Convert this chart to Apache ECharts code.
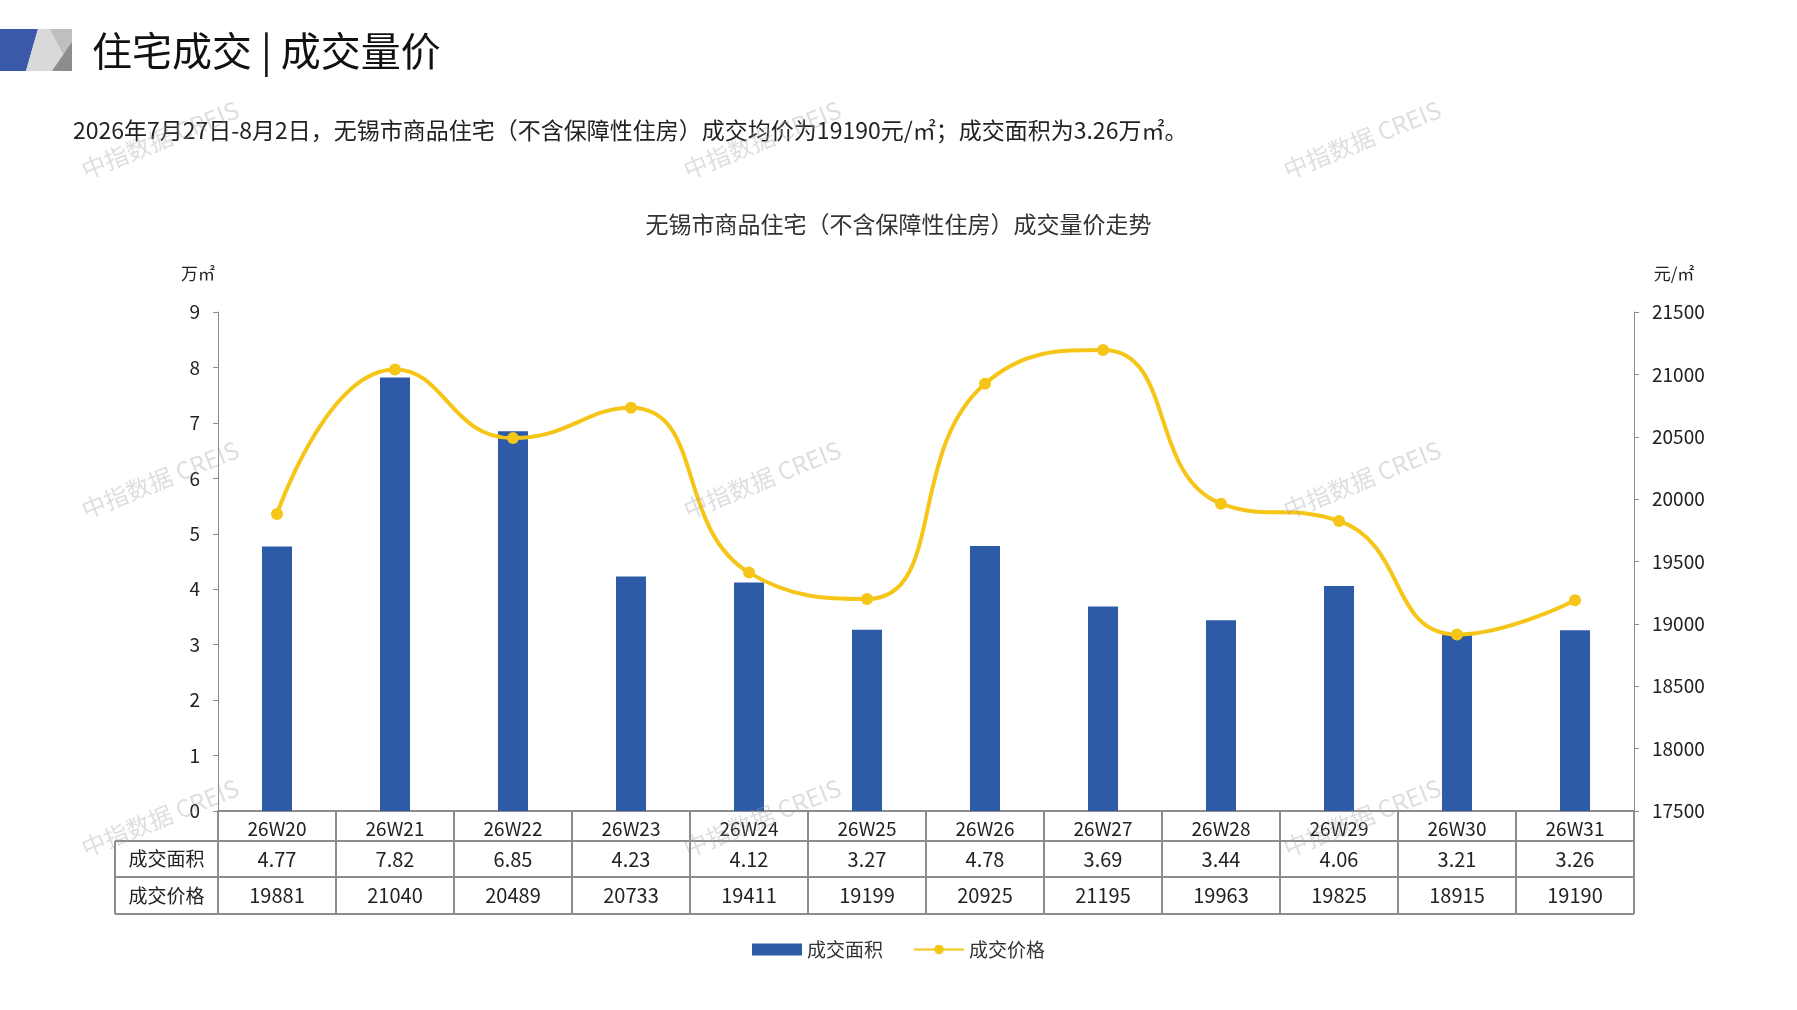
<!DOCTYPE html>
<html>
<head>
<meta charset="utf-8">
<script src="https://cdn.jsdelivr.net/npm/echarts@6/dist/echarts.min.js"></script>
<style>
html,body{margin:0;padding:0;background:#fff;}
#main{width:1797px;height:1010px;}
</style>
</head>
<body>
<div id="main"></div>
<script>
var weeks = ['26W20', '26W21', '26W22', '26W23', '26W24', '26W25', '26W26', '26W27', '26W28', '26W29', '26W30', '26W31'];
var areaValues = [4.77, 7.82, 6.85, 4.23, 4.12, 3.27, 4.78, 3.69, 3.44, 4.06, 3.21, 3.26];
var priceValues = [19881, 21040, 20489, 20733, 19411, 19199, 20925, 21195, 19963, 19825, 18915, 19190];
var areaLabels = ['4.77', '7.82', '6.85', '4.23', '4.12', '3.27', '4.78', '3.69', '3.44', '4.06', '3.21', '3.26'];

var font = '"Noto Sans CJK SC", sans-serif';
var blue = '#2E5BA8';
var yellow = '#F5C518';
var gridLine = '#8c8c8c';

var myChart = echarts.init(document.getElementById('main'));

var L = 218, R = 1634, T = 312, B = 811;

option = {
    animation: false,
    textStyle: { fontFamily: font },
    title: {
        text: '无锡市商品住宅（不含保障性住房）成交量价走势',
        left: 'center', top: 208,
        textStyle: { fontSize: 23, fontWeight: 'normal', color: '#333', fontFamily: font }
    },
    legend: {
        top: 935, left: 'center', itemWidth: 50, itemHeight: 12, itemGap: 30,
        textStyle: { fontSize: 19, color: '#333' },
        data: [{ name: '成交面积', icon: 'rect' }, { name: '成交价格' }]
    },
    grid: { left: L, right: 1797 - R, top: T, bottom: 1010 - B },
    xAxis: {
        type: 'category', data: weeks,
        axisLine: { lineStyle: { color: gridLine, width: 2 } },
        axisTick: { show: true, length: 30, interval: 0, lineStyle: { color: gridLine, width: 2 } },
        axisLabel: { fontSize: 19, color: '#222', margin: 8 }
    },
    yAxis: [{
        type: 'value', min: 0, max: 9, interval: 1,
        name: '万㎡', nameGap: 30, nameTextStyle: { fontSize: 17, color: '#222', padding: [0, 40, 0, 0] },
        axisLine: { show: true, lineStyle: { color: gridLine } },
        axisTick: { show: true, lineStyle: { color: gridLine } },
        axisLabel: { fontSize: 19, color: '#222', margin: 18 },
        splitLine: { show: false }
    }, {
        type: 'value', min: 17500, max: 21500, interval: 500,
        name: '元/㎡', nameGap: 30, nameTextStyle: { fontSize: 17, color: '#222', padding: [0, 0, 0, 80] },
        axisLine: { show: true, lineStyle: { color: gridLine } },
        axisTick: { show: true, lineStyle: { color: gridLine } },
        axisLabel: { fontSize: 19, color: '#222', margin: 18, formatter: function (v) { return String(v); } },
        splitLine: { show: false }
    }],
    series: [{
        name: '成交面积', type: 'bar', data: areaValues, barWidth: 30,
        itemStyle: { color: blue }
    }, {
        name: '成交价格', type: 'line', yAxisIndex: 1, data: priceValues, smooth: 0.5,
        symbol: 'circle', symbolSize: 12,
        lineStyle: { color: yellow, width: 4 }, itemStyle: { color: yellow }
    }]
};
myChart.setOption(option);

// header, table and watermarks
var g = [];
g.push({ type: 'polygon', shape: { points: [[0, 29], [38, 29], [26, 71], [0, 71]] }, style: { fill: '#3A59A8' } });
g.push({ type: 'polygon', shape: { points: [[38, 29], [72, 29], [72, 71], [26, 71]] }, style: { fill: '#D9D9D9' } });
g.push({ type: 'polygon', shape: { points: [[50, 29], [72, 29], [72, 71]] }, style: { fill: '#BFBFBF' } });
g.push({ type: 'polygon', shape: { points: [[72, 42], [72, 71], [52, 71]] }, style: { fill: '#8C8C8C' } });
g.push({ type: 'text', x: 92, y: 51, style: { text: '住宅成交 | 成交量价', font: '40px ' + font, fill: '#111', verticalAlign: 'middle' } });
g.push({ type: 'text', x: 73, y: 130, style: { text: '2026年7月27日-8月2日，无锡市商品住宅（不含保障性住房）成交均价为19190元/㎡；成交面积为3.26万㎡。', font: '23px ' + font, fill: '#222', verticalAlign: 'middle' } });

var tl = 115, r1 = 841, r2 = 877, r3 = 914;
var ls = { stroke: gridLine, lineWidth: 2 };
[r1, r2, r3].forEach(function (y) {
    g.push({ type: 'line', shape: { x1: tl, y1: y, x2: R, y2: y }, style: ls });
});
g.push({ type: 'line', shape: { x1: tl, y1: r1, x2: tl, y2: r3 }, style: ls });
var cw = (R - L) / weeks.length;
for (var i = 0; i <= weeks.length; i++) {
    g.push({ type: 'line', shape: { x1: L + cw * i, y1: B, x2: L + cw * i, y2: r3 }, style: ls });
}
g.push({ type: 'text', x: (tl + L) / 2, y: (r1 + r2) / 2, style: { text: '成交面积', font: '19px ' + font, fill: '#222', align: 'center', verticalAlign: 'middle' } });
g.push({ type: 'text', x: (tl + L) / 2, y: (r2 + r3) / 2, style: { text: '成交价格', font: '19px ' + font, fill: '#222', align: 'center', verticalAlign: 'middle' } });
weeks.forEach(function (w, i) {
    var x = myChart.convertToPixel({ xAxisIndex: 0 }, w);
    g.push({ type: 'text', x: x, y: (r1 + r2) / 2, style: { text: areaLabels[i], font: '20px ' + font, fill: '#222', align: 'center', verticalAlign: 'middle' } });
    g.push({ type: 'text', x: x, y: (r2 + r3) / 2, style: { text: String(priceValues[i]), font: '20px ' + font, fill: '#222', align: 'center', verticalAlign: 'middle' } });
});

var marks = [[78, 160], [680, 160], [1280, 160], [78, 500], [680, 500], [1280, 500], [78, 838], [680, 838], [1280, 838]];
marks.forEach(function (p) {
    g.push({ type: 'text', x: p[0], y: p[1], rotation: Math.PI / 180 * 22, z: 100,
        style: { text: '中指数据 CREIS', font: '24px ' + font, fill: 'rgba(160,160,160,0.35)' } });
});
myChart.setOption({ graphic: g });
</script>
</body>
</html>
